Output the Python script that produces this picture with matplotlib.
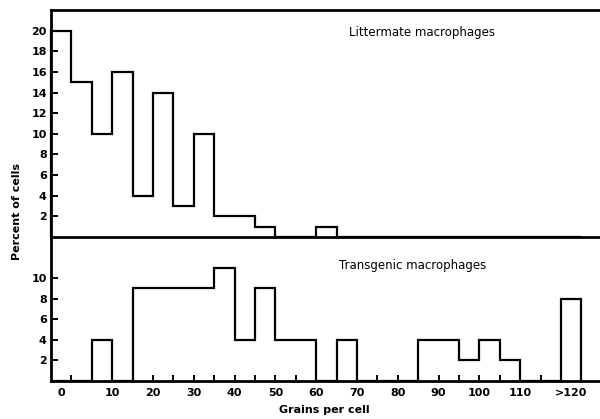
import numpy as np
import matplotlib
matplotlib.use('Agg')
import matplotlib.pyplot as plt

# bin edges in grains per cell (first bin is the "0" bin, last is ">120")
edges = list(range(-5, 130, 5))

# percent of cells per bin
littermate = [20, 15, 10, 16, 4, 14, 3, 10, 2, 2, 1, 0, 0, 1,
              0, 0, 0, 0, 0, 0, 0, 0, 0, 0, 0, 0]
transgenic = [0, 0, 4, 0, 9, 9, 9, 9, 11, 4, 9, 4, 4, 0,
              4, 0, 0, 0, 4, 4, 2, 4, 2, 0, 0, 8]

xtick_pos = [-2.5, 10, 20, 30, 40, 50, 60, 70, 80, 90, 100, 110, 122.5]
xtick_labels = ['0', '10', '20', '30', '40', '50', '60', '70', '80', '90',
                '100', '110', '>120']

plt.rcParams['font.family'] = 'DejaVu Sans'
plt.rcParams['font.weight'] = 'bold'

fig = plt.figure(figsize=(6, 4.19), dpi=100)
ax_top = fig.add_axes([51 / 600, 1 - 237 / 419, 549 / 600, 227 / 419])
ax_bot = fig.add_axes([51 / 600, 1 - 381 / 419, 549 / 600, 144 / 419])
ax_bot.patch.set_visible(False)  # don't hide the shared middle line

lw = 1.6
xmax = -5 + 549 / 4.08
for ax in (ax_top, ax_bot):
    ax.set_xlim(-5, xmax)
    ax.spines['right'].set_visible(False)
    for s in ('left', 'top', 'bottom'):
        ax.spines[s].set_linewidth(2.0)
    ax.tick_params(axis='y', direction='in', length=5, width=1.4,
                   labelsize=8, pad=3)
    for lab in ax.get_yticklabels():
        lab.set_fontweight('bold')

ax_top.stairs(littermate, edges, color='black', linewidth=lw, baseline=0,
              clip_on=False)
ax_top.set_ylim(0, 22)
ax_top.set_yticks(range(2, 21, 2))
ax_top.set_xticks([])
ax_top.text(0.675, 0.9, 'Littermate macrophages', transform=ax_top.transAxes,
            ha='center', va='center', fontsize=8.5, fontweight='normal')

ax_bot.stairs(transgenic, edges, color='black', linewidth=lw, baseline=0,
              clip_on=False)
ax_bot.set_ylim(0, 14)
ax_bot.set_yticks(range(2, 11, 2))
ax_bot.spines['top'].set_visible(False)
# labels on major ticks (no marks), tick marks every 5 grains as minor ticks
ax_bot.xaxis.remove_overlapping_locs = False
ax_bot.set_xticks(xtick_pos, xtick_labels)
ax_bot.set_xticks(range(0, 120, 5), minor=True)
ax_bot.tick_params(axis='x', which='minor', direction='in', length=4,
                   width=1.4)
ax_bot.tick_params(axis='x', which='major', length=0, labelsize=8, pad=5)
for lab in ax_bot.get_xticklabels():
    lab.set_fontweight('bold')
ax_bot.text(0.658, 0.8, 'Transgenic macrophages', transform=ax_bot.transAxes,
            ha='center', va='center', fontsize=8.5, fontweight='normal')

fig.text(324 / 600, 1 - 410 / 419, 'Grains per cell', ha='center',
         va='center', fontsize=8)
fig.text(17 / 600, 1 - 212 / 419, 'Percent of cells', ha='center',
         va='center', rotation=90, fontsize=8)

fig.savefig('out.png', dpi=100)
